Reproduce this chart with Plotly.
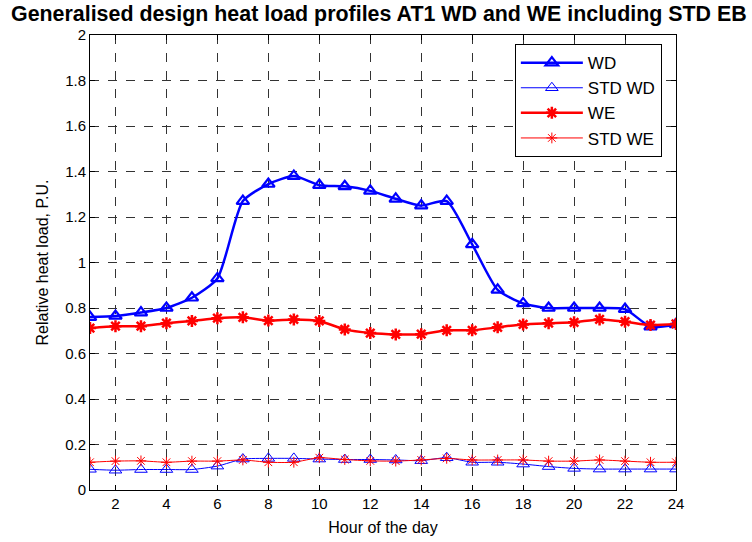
import plotly.graph_objects as go

hours = list(range(1, 25))
wd = [0.76, 0.765, 0.78, 0.80, 0.845, 0.93, 1.27, 1.345, 1.38, 1.34, 1.335, 1.315,
      1.28, 1.25, 1.27, 1.08, 0.88, 0.82, 0.80, 0.80, 0.80, 0.795, 0.718, 0.728]
std_wd = [0.091, 0.087, 0.09, 0.09, 0.09, 0.105, 0.136, 0.139, 0.139, 0.136, 0.134, 0.134,
          0.132, 0.129, 0.142, 0.122, 0.122, 0.114, 0.103, 0.095, 0.092, 0.092, 0.092, 0.092]
we = [0.712, 0.72, 0.72, 0.733, 0.743, 0.755, 0.759, 0.745, 0.75, 0.743, 0.706, 0.69,
      0.684, 0.685, 0.702, 0.702, 0.715, 0.728, 0.733, 0.737, 0.75, 0.74, 0.725, 0.73]
std_we = [0.122, 0.127, 0.128, 0.122, 0.127, 0.127, 0.132, 0.122, 0.122, 0.142, 0.134, 0.128,
          0.127, 0.132, 0.139, 0.132, 0.132, 0.132, 0.127, 0.127, 0.132, 0.127, 0.122, 0.122]

x_ticks = list(range(2, 25, 2))
y_ticks = [round(0.2 * i, 1) for i in range(11)]

FONT = "Liberation Sans, Arial"

fig = go.Figure()
fig.add_trace(go.Scatter(x=hours, y=wd, name="WD", mode="lines+markers", legendgroup="a",
                         line=dict(color="#0000ff", width=2.5, shape="spline", smoothing=0.6),
                         marker=dict(symbol="triangle-up-open", size=11, color="#0000ff",
                                     line=dict(width=2.2, color="#0000ff"))))
fig.add_trace(go.Scatter(x=hours, y=std_wd, name="STD WD", mode="lines+markers", legendgroup="b",
                         line=dict(color="#0000ff", width=1, shape="spline", smoothing=0.6),
                         marker=dict(symbol="triangle-up-open", size=11, color="#0000ff",
                                     line=dict(width=1, color="#0000ff"))))
fig.add_trace(go.Scatter(x=hours, y=we, name="WE", mode="lines+markers", legendgroup="c",
                         line=dict(color="#ff0000", width=2.5, shape="spline", smoothing=0.6),
                         marker=dict(symbol="asterisk-open", size=10, color="#ff0000",
                                     line=dict(width=2.5, color="#ff0000"))))
fig.add_trace(go.Scatter(x=hours, y=std_we, name="STD WE", mode="lines+markers", legendgroup="d",
                         line=dict(color="#ff0000", width=1, shape="spline", smoothing=0.6),
                         marker=dict(symbol="asterisk-open", size=9, color="#ff0000",
                                     line=dict(width=1, color="#ff0000"))))

axis_common = dict(showline=True, linecolor="black", linewidth=1, mirror="ticks",
                   ticks="inside", ticklen=5, tickcolor="black", automargin=False,
                   showgrid=True, gridcolor="#333333", griddash="dash", gridwidth=1,
                   zeroline=False, tickfont=dict(family=FONT, size=15, color="black"))

fig.update_layout(
    width=752, height=542,
    paper_bgcolor="white", plot_bgcolor="white",
    margin=dict(l=90, r=76, t=35, b=52),
    title=dict(text="<b>Generalised design heat load profiles AT1 WD and WE including STD EB</b>",
               xref="container", x=11 / 752, xanchor="left",
               yref="container", y=1 - 6 / 542, yanchor="top",
               font=dict(family=FONT, size=21.4, color="black")),
    xaxis=dict(range=[1, 24], tickvals=x_ticks,
               title=dict(text="Hour of the day", font=dict(family=FONT, size=16, color="black"), standoff=10),
               **axis_common),
    yaxis=dict(range=[0, 2], tickvals=y_ticks,
               title=dict(text="Relative heat load, P.U.", font=dict(family=FONT, size=16, color="black"), standoff=12),
               **axis_common),
    legend=dict(x=0.725, y=0.98, xanchor="left", yanchor="top",
                bgcolor="white", bordercolor="black", borderwidth=1,
                font=dict(family=FONT, size=17, color="black"),
                itemwidth=62, tracegroupgap=0),
    showlegend=True,
)

fig.write_html("out.html", config={"displayModeBar": False},
               post_script="document.body.style.margin='0px';")
